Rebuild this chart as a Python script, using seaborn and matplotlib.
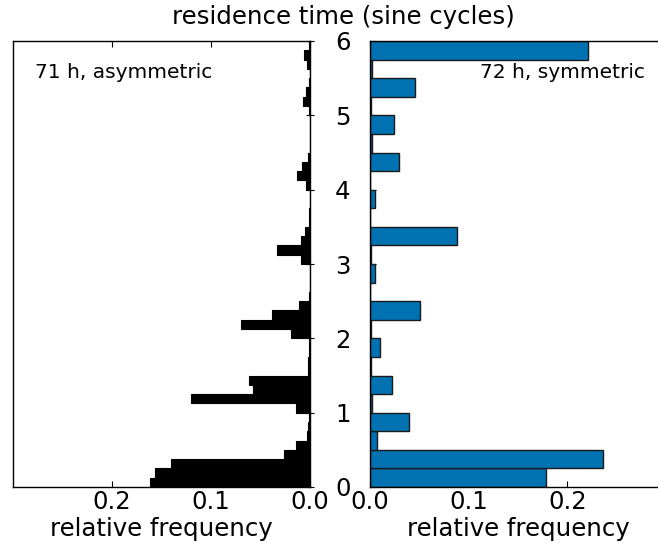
import numpy as np
import pandas as pd
import matplotlib
matplotlib.use("Agg")
import matplotlib.pyplot as plt
import seaborn as sns

# ---- data ----
# left panel: 71 h, asymmetric, bins of 0.125 sine cycles (0 .. 6)
left_binwidth = 0.125
left_freq = [0.162, 0.1566, 0.1407, 0.0263, 0.0145, 0.0034, 0.002, 0.001,
             0.0141, 0.120, 0.058, 0.062, 0.002, 0.0017, 0.001, 0.001,
             0.0189, 0.070, 0.0387, 0.0115, 0.001, 0.0005, 0.0005, 0.0005,
             0.0094, 0.033, 0.0094, 0.0046, 0.001, 0.0008, 0.0005, 0.0005,
             0.0044, 0.0135, 0.0079, 0.0024, 0.0005, 0.0005, 0.0005, 0.0005,
             0.001, 0.0067, 0.0042, 0.001, 0.0005, 0.0027, 0.0057, 0.001]
# right panel: 72 h, symmetric, bins of 0.25 sine cycles (0 .. 6)
right_binwidth = 0.25
right_freq = [0.178, 0.236, 0.0067, 0.040, 0.002, 0.0225, 0.001, 0.0104,
              0.001, 0.051, 0.0005, 0.0054, 0.001, 0.088, 0.0005, 0.0054,
              0.0005, 0.0296, 0.0025, 0.024, 0.0015, 0.046, 0.0025, 0.2205]
yticks = [0, 1, 2, 3, 4, 5, 6]
xticks = [0.0, 0.1, 0.2]
xticklabels = ["0.0", "0.1", "0.2"]

left_df = pd.DataFrame({"t": (np.arange(len(left_freq)) + 0.5) * left_binwidth,
                        "f": left_freq})
right_df = pd.DataFrame({"t": (np.arange(len(right_freq)) + 0.5) * right_binwidth,
                         "f": right_freq})

sns.set_style("ticks")
plt.rcParams["font.family"] = ["DejaVu Sans"]
plt.rcParams["text.color"] = "black"
plt.rcParams["axes.labelcolor"] = "black"
plt.rcParams["xtick.color"] = "black"
plt.rcParams["ytick.color"] = "black"

W, H = 658, 543
fig = plt.figure(figsize=(W / 100, H / 100), dpi=100)
ax1 = fig.add_axes([13 / W, 1 - 487 / H, 297 / W, 446 / H])
ax2 = fig.add_axes([370 / W, 1 - 487 / H, 296 / W, 446 / H])

sns.histplot(data=left_df, y="t", weights="f", binwidth=left_binwidth, binrange=(0, 6),
             color="black", edgecolor="black", linewidth=0.8, alpha=1, ax=ax1)
sns.histplot(data=right_df, y="t", weights="f", binwidth=right_binwidth, binrange=(0, 6),
             color="#0072B2", edgecolor="#1a1a1a", linewidth=1.0, alpha=1, ax=ax2)

fs = 17.6
for ax in (ax1, ax2):
    ax.set_ylim(0, 6)
    ax.set_xticks(xticks)
    ax.set_xticklabels(xticklabels)
    ax.set_xlabel("relative frequency", fontsize=fs, labelpad=2, color="black")
    ax.set_ylabel("")
    for s in ax.spines.values():
        s.set_color("black")
        s.set_linewidth(1.0)
    ax.tick_params(axis="x", which="both", direction="in", top=True, bottom=True,
                   length=4, width=0.8, labelsize=fs, pad=2, colors="black")

ax1.set_xlim(0.3, 0)
ax2.set_xlim(0, 0.3)

ax1.set_yticks(yticks)
ax1.tick_params(axis="y", left=False, right=True, labelleft=False, labelright=False,
                direction="inout", length=6, width=0.8, colors="black")
ax2.set_yticks(yticks)
ax2.set_yticklabels([str(v) for v in yticks])
ax2.tick_params(axis="y", left=True, right=False, direction="in", length=4,
                width=0.8, labelsize=fs, pad=14, colors="black")
ax2.spines["right"].set_visible(False)

ax1.text(0.074, 0.93, "71 h, asymmetric", transform=ax1.transAxes,
         fontsize=14.5, ha="left", va="center", color="black")
ax2.text(0.929, 0.93, "72 h, symmetric", transform=ax2.transAxes,
         fontsize=14.5, ha="right", va="center", color="black")

fig.text(343 / W, 1 - 17 / H, "residence time (sine cycles)", fontsize=fs,
         ha="center", va="center", color="black")

fig.savefig("out.png", dpi=100)
